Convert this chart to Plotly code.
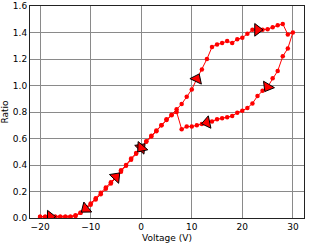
import plotly.graph_objects as go

# Forward sweep (increasing voltage)
v_fwd = list(range(-20, 31))
r_fwd = [0.01, 0.01, 0.01, 0.01, 0.01, 0.01, 0.01, 0.015, 0.04, 0.08,
         0.11, 0.15, 0.19, 0.23, 0.27, 0.31, 0.36, 0.40, 0.45, 0.49,
         0.53, 0.58, 0.62, 0.66, 0.70, 0.745, 0.78, 0.82, 0.86, 0.915,
         0.97, 1.05, 1.12, 1.20, 1.29, 1.31, 1.32, 1.335, 1.32, 1.35,
         1.36, 1.39, 1.42, 1.42, 1.42, 1.425, 1.44, 1.455, 1.465, 1.385,
         1.40]

# Backward sweep (decreasing voltage)
v_bwd = list(range(30, -21, -1))
r_bwd = [1.40, 1.28, 1.22, 1.11, 1.055, 0.99, 0.96, 0.92, 0.865, 0.83,
         0.81, 0.795, 0.77, 0.76, 0.752, 0.745, 0.728, 0.72, 0.71, 0.70,
         0.69, 0.69, 0.67, 0.80, 0.775, 0.74, 0.70, 0.655, 0.615, 0.575,
         0.53, 0.485, 0.44, 0.395, 0.35, 0.30, 0.26, 0.22, 0.18, 0.14,
         0.10, 0.07, 0.04, 0.02, 0.01, 0.01, 0.01, 0.01, 0.01, 0.01,
         0.01]

arrow_fwd = [-18, -5, 0, 11, 23]
arrow_bwd = [25, 13, 0, -11]

x_ticks = [-20, -10, 0, 10, 20, 30]
y_ticks = [0.0, 0.2, 0.4, 0.6, 0.8, 1.0, 1.2, 1.4, 1.6]

V = v_fwd + v_bwd[1:]
R = r_fwd + r_bwd[1:]
n_f = len(v_fwd)
sizes = []
lw = []
for i, v in enumerate(V):
    is_arrow = (i < n_f and v in arrow_fwd) or (i >= n_f and v in arrow_bwd)
    sizes.append(11 if is_arrow else 0)
    lw.append(1 if is_arrow else 0)

fig = go.Figure()
fig.add_trace(go.Scatter(
    x=V, y=R, mode="lines+markers",
    line=dict(color="#ff0000", width=1),
    marker=dict(color="#ff0000", size=4.5),
    showlegend=False, hoverinfo="skip"))
fig.add_trace(go.Scatter(
    x=V, y=R, mode="markers",
    marker=dict(symbol="triangle-up", size=sizes, angleref="previous",
                opacity=1, color="#ff0000",
                line=dict(color="black", width=lw)),
    showlegend=False, hoverinfo="skip"))

axis_common = dict(
    showline=True, mirror=True, linecolor="#222222", linewidth=1,
    showgrid=True, gridcolor="#8a8a8a", gridwidth=1,
    zeroline=False, ticks="",
    tickfont=dict(family="DejaVu Sans", size=9, color="black"),
)
fig.update_xaxes(range=[-22, 32.2], tickvals=x_ticks,
                 title=dict(text="Voltage (V)", standoff=3,
                            font=dict(family="DejaVu Sans", size=9, color="black")),
                 **axis_common)
fig.update_yaxes(range=[0, 1.6], tickvals=y_ticks, tickformat=".1f",
                 title=dict(text="Ratio", standoff=4,
                            font=dict(family="DejaVu Sans", size=9, color="black")),
                 **axis_common)
fig.update_layout(
    width=310, height=245,
    margin=dict(l=30, r=6, t=6, b=27, autoexpand=False),
    paper_bgcolor="white", plot_bgcolor="white",
    font=dict(family="DejaVu Sans", size=9, color="black"),
)
fig.write_html("out.html", config={"displayModeBar": False},
               post_script="document.body.style.margin='0px';document.body.style.padding='0px';")
